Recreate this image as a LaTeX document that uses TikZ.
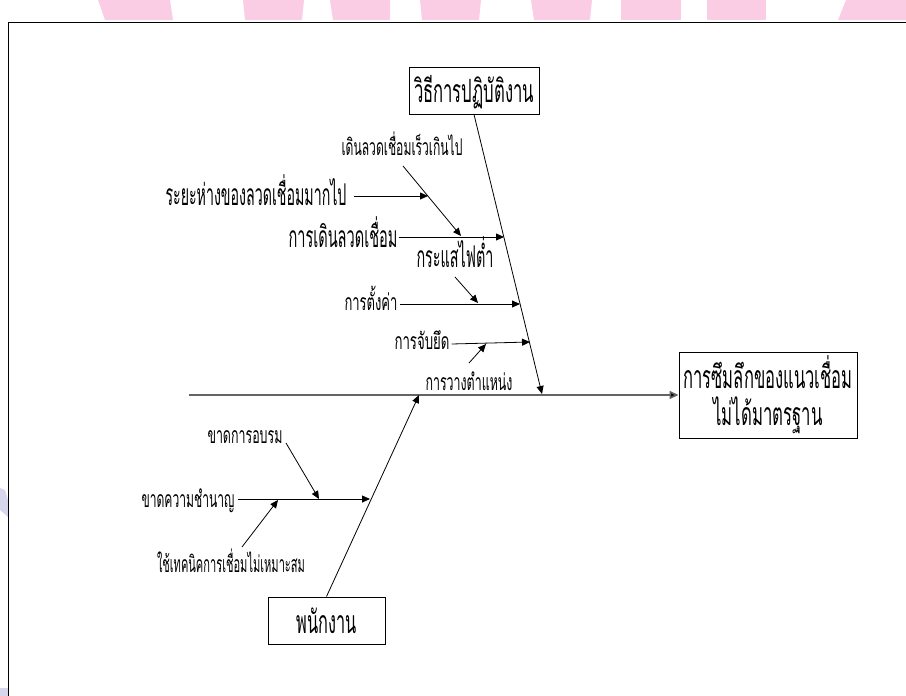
\documentclass[tikz,border=0pt]{standalone}
\usepackage{fontspec}
\usepackage{graphicx}
\usetikzlibrary{arrows.meta}
\newfontfamily\thaifont[Script=Thai]{Loma}
\definecolor{wmpink}{RGB}{251,205,229}
\definecolor{wmblue}{RGB}{214,214,236}
\definecolor{spinegray}{RGB}{100,100,100}
% squeeze a label to a given width, keeping its height
\newcommand{\fitw}[2]{\resizebox{#1pt}{\height}{#2}}

\begin{document}
\begin{tikzpicture}[x=1pt,y=-1pt,
  lbl/.style={inner sep=0pt, anchor=base},
  bigtxt/.style={lbl, font=\thaifont\fontsize{30}{34}\selectfont},
  smalltxt/.style={lbl, font=\thaifont\fontsize{23}{27}\selectfont},
  catbox/.style={draw, line width=0.9pt, inner sep=0pt, font=\thaifont\fontsize{32}{37}\selectfont},
  bone/.style={line width=0.8pt, -{Triangle[length=8pt,width=7pt]}},
  spine/.style={line width=1.6pt, draw=spinegray, -{Triangle[length=9pt,width=8pt,fill=black]}}
]
\useasboundingbox (0,0) rectangle (906,696);

% faded lettering along the top and left edges
\fill[wmpink] (98,0) -- (170,0) -- (173,20) -- (105,20) -- cycle;
\fill[wmpink] (243,0) -- (304,0) -- (302,20) -- (245,20) -- cycle;
\fill[wmpink] (330,0) -- (390,0) -- (390,20) -- (333,20) -- cycle;
\fill[wmpink] (420,0) -- (481,0) -- (479,20) -- (422,20) -- cycle;
\fill[wmpink] (531,0) -- (592,0) -- (590,20) -- (534,20) -- cycle;
\fill[wmpink] (621,0) -- (681,0) -- (681,20) -- (621,20) -- cycle;
\fill[wmpink] (707,0) -- (766,0) -- (766,20) -- (707,20) -- cycle;
\fill[wmpink] (846,0) -- (906,0) -- (906,20) -- (838,20) -- cycle;
\fill[wmblue] (0,488) -- (5,490) -- (8,500) -- (8,517) -- (0,510) -- cycle;
\fill[wmblue] (0,688) -- (8,688) -- (8,696) -- (0,696) -- cycle;

% page frame
\draw[line width=1.7pt] (906,22.5) -- (8.5,22.5) -- (8.5,696);

% head and category boxes
\node[catbox, minimum width=178, minimum height=86, align=center] (effect) at (768,395)
  {\fitw{169}{การซึมลึกของแนวเชื่อม}\\\fitw{109}{ไม่ได้มาตรฐาน}};
\node[catbox, minimum width=130, minimum height=47, text height=23, text depth=0] (method) at (474,90.5)
  {\fitw{120}{วิธีการปฏิบัติงาน}};
\node[catbox, minimum width=117, minimum height=47, text height=25, text depth=0] (staff) at (326.5,620.5)
  {\fitw{60}{พนักงาน}};

% cause labels
\node[smalltxt] (tFast)  at (402,155) {\fitw{121}{เดินลวดเชื่อมเร็วเกินไป}};
\node[bigtxt]   (tGap)   at (256,205) {\fitw{181}{ระยะห่างของลวดเชื่อมมากไป}};
\node[bigtxt]   (tWalk)  at (343,247) {\fitw{109}{การเดินลวดเชื่อม}};
\node[bigtxt]   (tLow)   at (455,267) {\fitw{77}{กระแสไฟต่ำ}};
\node[smalltxt] (tSet)   at (371,310) {\fitw{53}{การตั้งค่า}};
\node[smalltxt] (tClamp) at (422,349) {\fitw{55}{การจับยึด}};
\node[smalltxt] (tPos)   at (469,390) {\fitw{87}{การวางตำแหน่ง}};
\node[smalltxt] (tTrain) at (245,443) {\fitw{75}{ขาดการอบรม}};
\node[smalltxt] (tSkill) at (188,507) {\fitw{93}{ขาดความชำนาญ}};
\node[smalltxt] (tTech)  at (231,572) {\fitw{148}{ใช้เทคนิคการเชื่อมไม่เหมาะสม}};

% points where the bones meet
\coordinate (spineL) at (189,395);
\coordinate (mTip)   at (542,394);
\coordinate (sTip)   at (419,395);
\coordinate (pWalk)  at (504,237);
\coordinate (pGapE)  at (428,196);
\coordinate (pFastS) at (403,166);
\coordinate (pFastE) at (461,236);
\coordinate (pLowS)  at (455,277);
\coordinate (pLowE)  at (478,303);
\coordinate (pSet)   at (520,304);
\coordinate (pClamp) at (530,342);
\coordinate (pPosS)  at (469,363);
\coordinate (pPosE)  at (486,344);
\coordinate (pSkill) at (370,499);
\coordinate (pTrainS) at (286,443);
\coordinate (pTrainE) at (319,499);
\coordinate (pTechS) at (242,547);
\coordinate (pTechE) at (278,500);

% main spine and category bones
\draw[spine] (spineL) -- (effect.west);
\draw[bone] (method.south) -- (mTip);
\draw[bone] (staff.north) -- (sTip);

% cause arrows
\draw[bone] ([xshift=1pt,yshift=10pt]tWalk.base east) -- (pWalk);
\draw[bone] ([xshift=7pt,yshift=9pt]tGap.base east) -- (pGapE);
\draw[bone] (pFastS) -- (pFastE);
\draw[bone] ([xshift=2pt,yshift=6pt]tSet.base east) -- (pSet);
\draw[bone] (pLowS) -- (pLowE);
\draw[bone] ([xshift=2pt,yshift=5pt]tClamp.base east) -- (pClamp);
\draw[bone] (pPosS) -- (pPosE);
\draw[bone] ([xshift=3pt,yshift=8pt]tSkill.base east) -- (pSkill);
\draw[bone] (pTrainS) -- (pTrainE);
\draw[bone] (pTechS) -- (pTechE);
\end{tikzpicture}
\end{document}
